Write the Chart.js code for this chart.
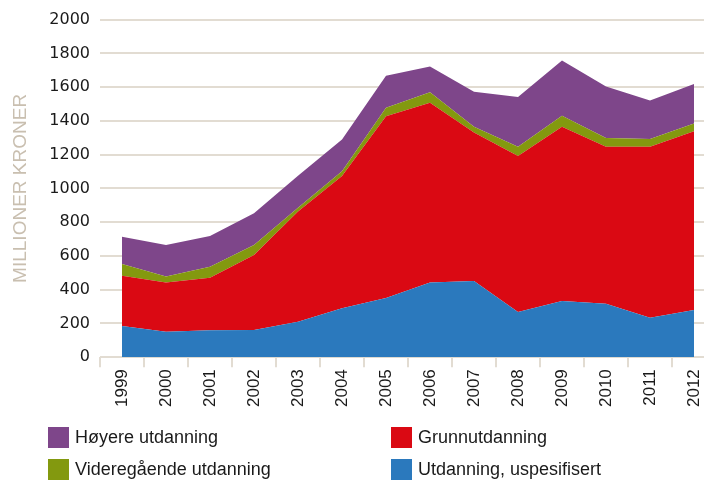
<!DOCTYPE html>
<html>
<head>
<meta charset="utf-8">
<script src="https://cdn.jsdelivr.net/npm/chart.js@4"></script>
<style>
    html, body { margin: 0; padding: 0; background: #fff; overflow: hidden; width: 704px; height: 480px; }
    #wrap { position: absolute; left: 0; top: 0; width: 720px; height: 409px; }
    #legend { position: absolute; left: 0; top: 0; width: 704px; height: 480px; pointer-events: none;
        font-family: "Liberation Sans", sans-serif; font-size: 18px; color: #1a1a1a; }
    .item { position: absolute; height: 21px; line-height: 21px; white-space: nowrap; }
    .item span.box { position: absolute; left: 0; top: 0; width: 21px; height: 21px; }
    .item span.txt { position: absolute; left: 27px; top: 0; }
</style>
</head>
<body>
<div id="wrap"><canvas id="chart" width="720" height="409"></canvas></div>
<div id="legend"></div>
<script>
// Data
const years = ['1999', '2000', '2001', '2002', '2003', '2004', '2005', '2006', '2007', '2008', '2009', '2010', '2011', '2012'];
const uspesifisert = [184, 151, 159, 161, 210, 290, 351, 442, 452, 268, 333, 317, 234, 280];
const grunnutdanning = [298, 291, 311, 444, 653, 783, 1077, 1066, 879, 924, 1032, 929, 1012, 1059];
const videregaende = [70, 36, 66, 60, 22, 28, 50, 61, 34, 54, 65, 53, 46, 46];
const hoyere = [161, 187, 182, 188, 190, 189, 189, 153, 208, 296, 328, 304, 228, 234];
const yTicks = [0, 200, 400, 600, 800, 1000, 1200, 1400, 1600, 1800, 2000];

const series = [
    { label: 'Utdanning, uspesifisert', data: uspesifisert, color: '#2b79bd', fill: 'origin' },
    { label: 'Grunnutdanning', data: grunnutdanning, color: '#da0913', fill: '-1' },
    { label: 'Videregående utdanning', data: videregaende, color: '#83990f', fill: '-1' },
    { label: 'Høyere utdanning', data: hoyere, color: '#7e468a', fill: '-1' }
];

const beige = '#e2dcd2';

new Chart(document.getElementById('chart'), {
    type: 'line',
    data: {
        labels: years,
        datasets: series.map(s => ({
            label: s.label,
            data: s.data,
            backgroundColor: s.color,
            borderColor: s.color,
            borderWidth: 0,
            pointRadius: 0,
            tension: 0,
            fill: s.fill
        }))
    },
    options: {
        responsive: false,
        animation: false,
        layout: { padding: { top: 12, left: 9, right: 4, bottom: 0 } },
        plugins: { legend: { display: false }, tooltip: { enabled: false } },
        scales: {
            x: {
                offset: true,
                grid: { offset: true, drawOnChartArea: false, drawTicks: true, tickLength: 10, color: beige, lineWidth: 2 },
                border: { display: false },
                ticks: {
                    minRotation: 90, maxRotation: 90, padding: 2, color: '#1a1a1a',
                    font: { family: 'Liberation Sans', size: 17 }
                }
            },
            y: {
                stacked: true,
                min: 0, max: 2000,
                afterBuildTicks: axis => { axis.ticks = yTicks.map(v => ({ value: v })); },
                afterFit: axis => { axis.width = 91; },
                grid: { color: beige, lineWidth: 2, drawTicks: false },
                border: { display: false },
                ticks: {
                    padding: 10, color: '#1a1a1a',
                    font: { family: 'DejaVu Sans', size: 16 },
                    callback: v => String(v)
                },
                title: {
                    display: true, text: 'MILLIONER KRONER', color: '#c9bfb0',
                    font: { family: 'Liberation Sans', size: 19 }, padding: { top: 0, bottom: 0 }
                }
            }
        }
    }
});

// Legend, two columns
const legendOrder = [
    { s: series[3], x: 48, y: 427 },
    { s: series[1], x: 391, y: 427 },
    { s: series[2], x: 48, y: 459 },
    { s: series[0], x: 391, y: 459 }
];
const legend = document.getElementById('legend');
legendOrder.forEach(({ s, x, y }) => {
    const div = document.createElement('div');
    div.className = 'item';
    div.style.left = x + 'px';
    div.style.top = y + 'px';
    div.innerHTML = `<span class="box" style="background:${s.color}"></span><span class="txt">${s.label}</span>`;
    legend.appendChild(div);
});
</script>
</body>
</html>
